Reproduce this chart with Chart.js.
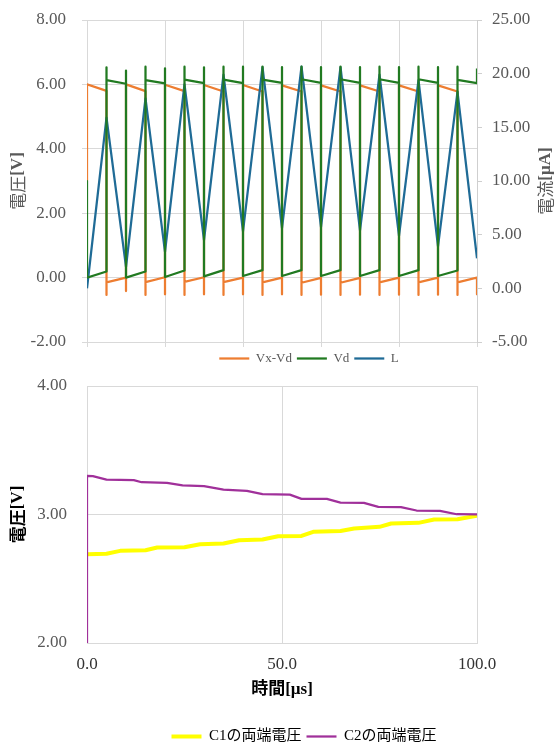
<!DOCTYPE html>
<html>
<head>
<meta charset="utf-8">
<script src="https://cdn.jsdelivr.net/npm/chart.js@4.4.1/dist/chart.umd.min.js"></script>
<style>
  html, body { margin: 0; padding: 0; background: #fff; overflow: hidden; }
  canvas { display: block; }
</style>
</head>
<body>
<canvas id="switchChart" width="590" height="375"></canvas>
<canvas id="capChart" width="580" height="379"></canvas>
<script>
// switching waveforms: every switch instant appears as end value, spike, start value
const switchTime = [0, 0,
  5, 5, 5, 10, 10, 10, 15, 15, 15, 20, 20, 20, 25, 25, 25,
  30, 30, 30, 35, 35, 35, 40, 40, 40, 45, 45, 45, 50, 50, 50,
  55, 55, 55, 60, 60, 60, 65, 65, 65, 70, 70, 70, 75, 75, 75,
  80, 80, 80, 85, 85, 85, 90, 90, 90, 95, 95, 95, 100, 100];
const vxVd = [3.00, 6.00,
  5.80, -0.54, -0.15,  0.00, -0.42, 6.00,  5.79, -0.54, -0.14,
  0.01, -0.52, 5.99,   5.79, -0.54, -0.13,  0.01, -0.52, 5.98,
  5.78, -0.54, -0.14,  0.00, -0.52, 5.98,   5.78, -0.54, -0.15,
  0.00, -0.52, 5.97,   5.78, -0.54, -0.16, -0.01, -0.53, 5.97,
  5.78, -0.54, -0.16, -0.01, -0.53, 5.97,   5.78, -0.54, -0.15,
  0.00, -0.53, 5.97,   5.78, -0.54, -0.15,  0.00, -0.53, 5.97,
  5.78, -0.54, -0.15,  0.00, -0.52];
const vd = [3.00, 0.00,
  0.19, 6.53, 6.13,  6.02, 6.43, 0.00,  0.19, 6.55, 6.13,
  6.03, 6.50, 0.02,  0.22, 6.55, 6.15,  6.04, 6.53, 0.04,
  0.23, 6.55, 6.15,  6.04, 6.55, 0.05,  0.23, 6.55, 6.15,
  6.05, 6.54, 0.05,  0.23, 6.55, 6.16,  6.05, 6.54, 0.05,
  0.23, 6.55, 6.16,  6.05, 6.54, 0.05,  0.23, 6.55, 6.16,
  6.05, 6.54, 0.05,  0.23, 6.55, 6.16,  6.05, 6.54, 0.05,
  0.22, 6.55, 6.14,  6.04, 6.49];

// coil current [uA]
const coilTime = [0, 5, 10, 15, 20, 25, 30, 35, 40, 45, 50, 55, 60, 65, 70, 75, 80, 85, 90, 95, 100];
const coilCurrent = [0.0, 15.9, 2.0, 17.7, 3.4, 19.0, 4.5, 19.9, 5.3, 20.6, 5.6,
  20.65, 5.7, 20.6, 5.4, 19.9, 4.9, 19.4, 3.9, 18.3, 2.8];

// capacitor voltages
const c1Time = [0, 5, 8.5, 15, 18, 25, 29, 35, 39, 45, 49, 55, 58, 65, 68.5, 75, 78, 85, 89, 95, 100];
const c1Volt = [2.690, 2.695, 2.717, 2.722, 2.743, 2.745, 2.769, 2.774, 2.800, 2.805, 2.831,
  2.833, 2.865, 2.872, 2.891, 2.904, 2.930, 2.935, 2.961, 2.963, 2.990];
const c2Time = [0, 0, 1.5, 5, 12, 14, 20.5, 24.5, 30, 35, 41, 45, 52, 55, 61.5, 65, 71, 74.7, 80.5, 84.5, 90.5, 94.8, 100];
const c2Volt = [2.000, 3.300, 3.298, 3.272, 3.267, 3.251, 3.246, 3.226, 3.220, 3.194, 3.184, 3.158,
  3.155, 3.122, 3.121, 3.093, 3.090, 3.059, 3.058, 3.031, 3.029, 3.002, 3.000];

const SERIF = "'Liberation Serif', 'Noto Sans CJK JP', serif";
const GRID = '#d9d9d9';

function toPoints(xs, ys) {
    return ys.map((y, i) => ({ x: xs[i], y: y }));
}

// fixed axis size, no extra room for the end labels
function fixWidth(w) {
    return s => { s.width = w; s.paddingTop = 0; s.paddingBottom = 0; };
}

// vertical axis titles with mixed weights (Excel style)
const sideTitles = {
    id: 'sideTitles',
    afterDraw(chart, args, opts) {
        const ctx = chart.ctx;
        const area = chart.chartArea;
        const cy = (area.top + area.bottom) / 2;
        opts.items.forEach(item => {
            ctx.save();
            ctx.translate(item.x, cy);
            ctx.rotate(-Math.PI / 2);
            ctx.textBaseline = 'middle';
            ctx.fillStyle = item.color;
            let total = 0;
            item.parts.forEach(p => { ctx.font = p.font; total += ctx.measureText(p.text).width; });
            let x = -total / 2;
            item.parts.forEach(p => {
                ctx.font = p.font;
                ctx.fillText(p.text, x, 0);
                x += ctx.measureText(p.text).width;
            });
            ctx.restore();
        });
    }
};

// top chart: switching voltages and coil current
new Chart(document.getElementById('switchChart'), {
    type: 'line',
    data: {
        datasets: [
            { label: 'Vx-Vd', data: toPoints(switchTime, vxVd), borderColor: '#ED7D31', backgroundColor: '#ED7D31', borderWidth: 2.25, order: 2, yAxisID: 'y' },
            { label: 'Vd', data: toPoints(switchTime, vd), borderColor: '#217A21', backgroundColor: '#217A21', borderWidth: 2.25, order: 0, yAxisID: 'y' },
            { label: 'L', data: toPoints(coilTime, coilCurrent), borderColor: '#1F6B96', backgroundColor: '#1F6B96', borderWidth: 2.25, order: 1, yAxisID: 'y1' }
        ]
    },
    options: {
        responsive: false,
        animation: false,
        elements: { point: { radius: 0 }, line: { tension: 0, borderJoinStyle: 'round' } },
        layout: { padding: { top: 20, left: 28, right: 0, bottom: 0 } },
        plugins: {
            tooltip: { enabled: false },
            legend: {
                position: 'bottom',
                labels: {
                    usePointStyle: true,
                    pointStyle: 'line',
                    pointStyleWidth: 30,
                    padding: 5,
                    color: '#595959',
                    font: { family: SERIF, size: 13 },
                    sort: (a, b) => a.datasetIndex - b.datasetIndex
                }
            },
            sideTitles: {
                items: [
                    { x: 18, color: '#595959', parts: [
                        { text: '電圧', font: "17px 'Noto Sans CJK JP'" },
                        { text: '[V]', font: "bold 17px 'Liberation Serif'" }] },
                    { x: 546, color: '#595959', parts: [
                        { text: '電流', font: "17px 'Noto Sans CJK JP'" },
                        { text: '[µA]', font: "bold 17px 'Liberation Serif'" }] }
                ]
            }
        },
        scales: {
            x: {
                type: 'linear',
                min: 0,
                max: 100,
                ticks: { stepSize: 20, display: false },
                grid: { color: GRID, tickLength: 5 },
                border: { color: GRID },
                afterFit: s => { s.height = 5; }
            },
            y: {
                position: 'left',
                min: -2,
                max: 8,
                ticks: { stepSize: 2, padding: 16, color: '#595959', font: { family: SERIF, size: 17 },
                    callback: v => v.toFixed(2) },
                grid: { color: GRID, tickLength: 5 },
                border: { color: GRID },
                afterFit: fixWidth(59)
            },
            y1: {
                position: 'right',
                min: -5,
                max: 25,
                ticks: { stepSize: 5, padding: 10, color: '#595959', font: { family: SERIF, size: 17 },
                    callback: v => v.toFixed(2) },
                grid: { drawOnChartArea: false, color: '#cfcfcf', tickLength: 5 },
                border: { color: '#cfcfcf' },
                afterFit: fixWidth(113)
            }
        }
    },
    plugins: [sideTitles]
});

// bottom chart: capacitor voltages
new Chart(document.getElementById('capChart'), {
    type: 'line',
    data: {
        datasets: [
            { label: 'C1の両端電圧', data: toPoints(c1Time, c1Volt), borderColor: '#FFFF00', backgroundColor: '#FFFF00', borderWidth: 4, order: 1 },
            { label: 'C2の両端電圧', data: toPoints(c2Time, c2Volt), borderColor: '#A0309A', backgroundColor: '#A0309A', borderWidth: 2.25, order: 0 }
        ]
    },
    options: {
        responsive: false,
        animation: false,
        elements: { point: { radius: 0 }, line: { tension: 0, borderJoinStyle: 'round' } },
        layout: { padding: { top: 11, left: 28, right: 0, bottom: 0 } },
        plugins: {
            tooltip: { enabled: false },
            legend: {
                position: 'bottom',
                labels: {
                    usePointStyle: true,
                    pointStyle: 'line',
                    pointStyleWidth: 30,
                    padding: 5,
                    color: '#000',
                    font: { family: SERIF, size: 15 },
                    sort: (a, b) => a.datasetIndex - b.datasetIndex
                }
            },
            sideTitles: {
                items: [
                    { x: 18, color: '#000', parts: [
                        { text: '電圧', font: "bold 17px 'Noto Sans CJK JP'" },
                        { text: '[V]', font: "bold 17px 'Liberation Serif'" }] }
                ]
            }
        },
        scales: {
            x: {
                type: 'linear',
                min: 0,
                max: 100,
                ticks: { stepSize: 50, padding: 11, color: '#333', font: { family: SERIF, size: 17 },
                    callback: v => v.toFixed(1) },
                grid: { color: GRID, drawTicks: false },
                border: { color: GRID },
                title: { display: true, text: '時間[µs]', color: '#000',
                    font: { family: SERIF, size: 17, weight: 'bold' }, padding: { top: 4, bottom: 24 } },
                afterFit: s => { s.height = 81; }
            },
            y: {
                position: 'left',
                min: 2,
                max: 4,
                ticks: { stepSize: 1, padding: 20, color: '#595959', font: { family: SERIF, size: 17 },
                    callback: v => v.toFixed(2) },
                grid: { color: GRID, drawTicks: false },
                border: { color: GRID },
                afterFit: fixWidth(59)
            },
            // empty right band, keeps the plot as wide as the top chart
            yRight: {
                position: 'right',
                min: 2,
                max: 4,
                ticks: { display: false },
                grid: { display: false },
                border: { display: false },
                afterFit: fixWidth(103)
            }
        }
    },
    plugins: [sideTitles]
});
</script>
</body>
</html>
